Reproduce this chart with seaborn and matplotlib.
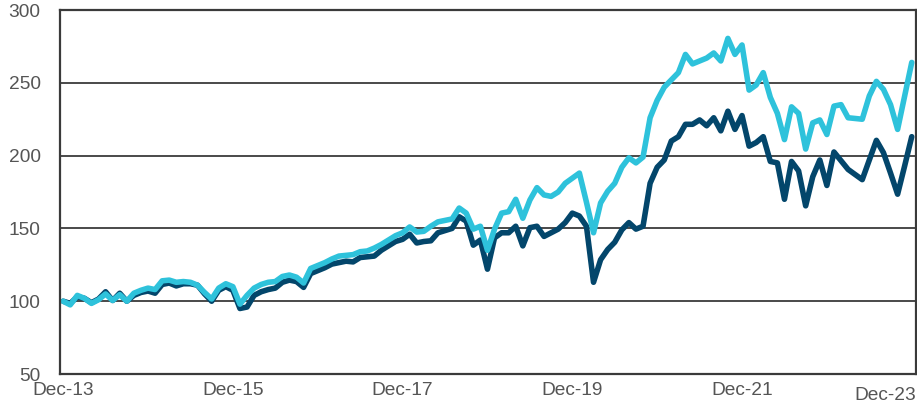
import numpy as np
import pandas as pd
import matplotlib.pyplot as plt
import matplotlib.transforms as mtransforms
import seaborn as sns

sns.set_style('white')
plt.rcParams['font.family'] = ['Liberation Sans', 'DejaVu Sans']

# monthly index values, Dec-13 .. Dec-23 (121 months)
light_vals = [
    100, 97.5, 104, 102, 98.5, 101, 105, 100.5, 104.5, 100,
    105.5, 107.5, 109, 108, 114, 114.5, 113, 113.5, 113, 111,
    106, 101.5, 109, 112, 110, 98, 104, 109, 111.5, 113,
    113.5, 117, 118, 116.5, 112.5, 122.5, 124.5, 126.5, 129, 131,
    131.5, 132, 134, 134.5, 136.5, 139, 142, 145, 147, 151,
    147.5, 148, 151.5, 154.5, 155.5, 156.5, 164, 160.5, 149.5, 151.5,
    135, 149.5, 160.5, 161.5, 170, 157, 169.5, 178, 173, 172,
    175, 181, 184.5, 188, 168, 147, 167.5, 175.5, 181, 192,
    198.5, 195, 199, 226, 238, 247, 252, 257, 269.5, 263,
    265, 267, 270.5, 265, 280.5, 269.5, 276, 245, 248.5, 257,
    240, 229, 211, 233.5, 229, 204.5, 222.5, 224.5, 214.5, 234,
    235, 226, 225.5, 225, 241, 251, 245.5, 235, 218, 241,
    264,
]
dark_vals = [
    100, 98.5, 103, 102, 99, 101.5, 106.5, 100.5, 105.5, 100,
    104, 106, 107, 105.5, 111.5, 112.5, 110.5, 112, 112, 111,
    105, 100, 107.5, 110, 107.5, 95, 96, 104, 106.5, 108,
    109, 113, 114.5, 113.5, 109.5, 119, 121, 123, 125.5, 126.5,
    127.5, 127, 130, 130.5, 131, 135, 138, 141, 142.5, 146,
    140, 141, 141.5, 147, 148.5, 150, 158, 155, 138.5, 142,
    122, 143.5, 147, 147, 151.5, 138, 150.5, 151.5, 144.5, 147,
    149.5, 154, 160.5, 158.5, 151.5, 113, 128.5, 135.5, 140.5, 149,
    154, 149.5, 151.5, 181, 192, 197, 210, 213, 221.5, 221.5,
    224.5, 220.5, 226, 217, 230.5, 218, 227.5, 206.5, 209, 213,
    196, 195, 170, 196, 189.5, 165.5, 185.5, 197, 179.5, 202.5,
    196.5, 190.5, 187, 183.5, 197, 210.5, 202, 188, 173.5, 193,
    213,
]
tick_months = [0, 24, 48, 72, 96, 120]
tick_labels = ['Dec-13', 'Dec-15', 'Dec-17', 'Dec-19', 'Dec-21', 'Dec-23']
y_ticks = [50, 100, 150, 200, 250, 300]

months = np.arange(len(light_vals))
df = pd.concat([
    pd.DataFrame({'month': months, 'value': dark_vals, 'series': 'dark'}),
    pd.DataFrame({'month': months, 'value': light_vals, 'series': 'light'}),
])

fig = plt.figure(figsize=(9.17, 4.12), dpi=100)
ax = fig.add_axes([0.0654, 0.0922, 0.9335, 0.8835])
sns.lineplot(data=df, x='month', y='value', hue='series', hue_order=['dark', 'light'],
             palette={'dark': '#03466b', 'light': '#2ec2db'}, linewidth=4,
             legend=False, ax=ax)

ax.set_xlim(-0.45, 120.6)
ax.set_ylim(50, 300)
ax.set_yticks(y_ticks)
ax.set_xticks(tick_months)
ax.set_xticklabels(tick_labels)
ax.set_xlabel('')
ax.set_ylabel('')
for y in y_ticks[1:-1]:
    ax.axhline(y, color='#3a3a3a', lw=1.3, zorder=0)
for s in ax.spines.values():
    s.set_color('#3a3a3a')
    s.set_linewidth(1.6)
ax.tick_params(axis='both', length=0, labelsize=13.8, colors='#555555')
ax.tick_params(axis='y', pad=14)
ax.tick_params(axis='x', pad=6)

# last label is pushed to the right edge and slightly lower
last = ax.get_xticklabels()[-1]
last.set_ha('right')
last.set_transform(last.get_transform() + mtransforms.ScaledTranslation(4/100, -5/100, fig.dpi_scale_trans))

fig.savefig('out.png', dpi=100)
